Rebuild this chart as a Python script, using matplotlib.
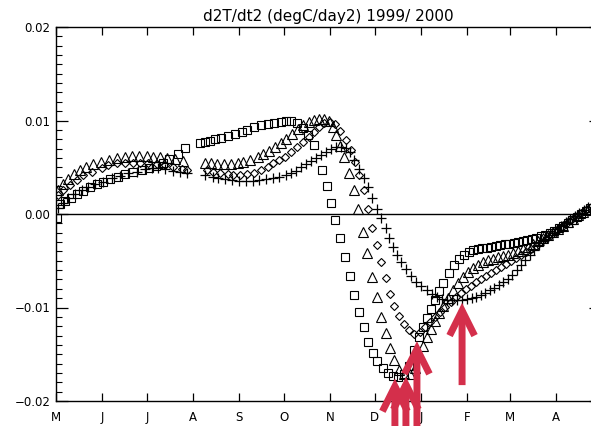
import matplotlib
matplotlib.use("Agg")
import matplotlib.pyplot as plt
from matplotlib.ticker import MultipleLocator

# x = days since 1 May 1999, y = d2T/dt2 (degC/day2)
sq_day = [0.7, 2.7, 6.1, 10.1, 14.1, 18.2, 22.9, 27.6, 31.6, 36.4, 41.8, 46.5, 51.9, 57.9, 62.6, 67.3, 72.1, 76.1, 82.2, 86.9,
          97.0, 100.3, 103.7, 107.1, 111.1, 115.8, 120.5, 124.6, 128.6, 132.7, 137.4, 142.1, 146.1, 150.8, 154.2, 157.6,
          161.6, 165.7, 169.0, 173.1, 178.5, 181.8, 184.5, 187.2, 190.6, 193.9, 197.3, 200.0, 203.4, 206.7, 209.4, 212.8,
          215.5, 219.5, 222.9, 226.3, 229.6, 233.7, 237.0, 240.4, 243.8, 246.5, 249.2, 251.9, 254.5, 257.2, 259.9, 264.0,
          267.3, 270.7, 274.1, 277.4, 280.1, 283.5, 286.2, 289.6, 292.3, 295.6, 298.3, 301.7, 304.4, 307.7, 310.4, 313.8,
          316.5, 319.9, 322.6, 325.9, 328.6, 332.0, 334.7, 338.0, 340.7, 344.1, 346.8, 350.2, 352.9, 356.2, 358.9]
sq_val = [-0.0004, 0.0011, 0.0014, 0.0017, 0.0021, 0.0025, 0.0029, 0.0032, 0.0034, 0.0037, 0.0040, 0.0043, 0.0045,
          0.0047, 0.0049, 0.0051, 0.0055, 0.0059, 0.0064, 0.0071,
          0.0076, 0.0077, 0.0078, 0.0080, 0.0081, 0.0083, 0.0086, 0.0088, 0.0090, 0.0093,
          0.0095, 0.0096, 0.0097, 0.0098, 0.0099, 0.0099, 0.0097, 0.0092, 0.0084, 0.0074,
          0.0047, 0.0030, 0.0012, -0.0006, -0.0026, -0.0046, -0.0066, -0.0087, -0.0105, -0.0121,
          -0.0137, -0.0149, -0.0157, -0.0165, -0.0170, -0.0173, -0.0174, -0.0171, -0.0163, -0.0145,
          -0.0132, -0.0121, -0.0111, -0.0102, -0.0092, -0.0082, -0.0074, -0.0063, -0.0055, -0.0048,
          -0.0044, -0.0041, -0.0039, -0.0037, -0.0036, -0.0036, -0.0035, -0.0034, -0.0033, -0.0032,
          -0.0032, -0.0031, -0.0030, -0.0029, -0.0028, -0.0027, -0.0026, -0.0024, -0.0022, -0.0020,
          -0.0018, -0.0015, -0.0013, -0.0010, -0.0006, -0.0003, 0.0000, 0.0003, 0.0006]

tri_day = [1.3, 4.7, 8.1, 12.1, 16.2, 20.2, 24.9, 30.3, 35.7, 41.1, 46.5, 51.2, 55.9, 61.3, 65.3, 70.0, 74.7, 80.1, 85.5,
           100.3, 104.4, 108.4, 112.5, 117.2, 121.9, 125.9, 130.6, 135.4, 138.7,
           142.8, 146.8, 150.8, 154.2, 158.2, 162.3, 165.7, 169.7, 173.1, 176.4,
           179.8, 183.2, 185.9, 187.9, 190.6, 193.3, 196.6, 200.0, 202.7, 206.1,
           208.8, 212.1, 215.5, 218.2, 221.5, 224.2, 226.9, 230.3, 233.7, 237.7,
           241.1, 243.8, 246.5, 249.2, 251.9, 254.5, 257.2, 259.9, 263.3, 266.7,
           270.0, 273.4, 276.8, 280.1, 283.5, 286.9, 290.2, 293.6, 297.0, 300.3,
           303.7, 307.1, 310.4, 313.8, 317.2, 320.5, 323.9, 327.3, 330.6, 334.0,
           337.4, 340.7, 344.1, 347.5, 350.8, 354.2, 357.6]
tri_val = [0.0026, 0.0032, 0.0037, 0.0043, 0.0047, 0.0050, 0.0053, 0.0056, 0.0058, 0.0060, 0.0061, 0.0062, 0.0062,
           0.0062, 0.0061, 0.0061, 0.0060, 0.0059, 0.0057,
           0.0055, 0.0055, 0.0053, 0.0053, 0.0053, 0.0055, 0.0056, 0.0058, 0.0061, 0.0064,
           0.0067, 0.0072, 0.0076, 0.0080, 0.0086, 0.0091, 0.0095, 0.0098, 0.0101, 0.0102,
           0.0102, 0.0099, 0.0093, 0.0084, 0.0073, 0.0061, 0.0044, 0.0026, 0.0005, -0.0019,
           -0.0042, -0.0067, -0.0089, -0.0110, -0.0127, -0.0143, -0.0156, -0.0167, -0.0171, -0.0171,
           -0.0165, -0.0153, -0.0141, -0.0132, -0.0123, -0.0114, -0.0106, -0.0098, -0.0090, -0.0081,
           -0.0074, -0.0067, -0.0062, -0.0058, -0.0055, -0.0051, -0.0049, -0.0048, -0.0046, -0.0045,
           -0.0044, -0.0042, -0.0040, -0.0037, -0.0035, -0.0032, -0.0029, -0.0026, -0.0022, -0.0019,
           -0.0016, -0.0013, -0.0009, -0.0005, -0.0001, 0.0002, 0.0005]

dia_day = [1.3, 4.7, 9.4, 14.1, 18.2, 24.2, 31.0, 35.0, 41.1, 46.5, 51.9, 56.6, 62.0, 68.0, 73.4, 78.8, 84.8, 88.2,
           101.7, 105.7, 110.4, 115.2, 119.2, 123.9, 128.6, 132.7, 137.4, 142.1,
           145.5, 149.5, 153.5, 157.6, 161.6, 165.7, 169.7, 173.1, 176.4, 179.8,
           183.8, 187.2, 190.6, 194.6, 198.0, 200.7, 203.4, 206.7, 209.4, 212.1,
           215.5, 218.2, 221.5, 224.2, 226.9, 230.3, 233.7, 237.0, 240.4, 244.4,
           247.8, 251.2, 254.5, 257.9, 261.3, 265.3, 268.7, 272.1, 275.4, 278.8,
           282.2, 285.5, 288.9, 292.3, 295.6, 299.0, 302.4, 305.7, 309.1, 312.5,
           315.8, 319.2, 322.6, 325.9, 329.3, 332.7, 336.0, 339.4, 342.8, 346.1,
           349.5, 352.9, 356.2, 359.6]
dia_val = [0.0020, 0.0026, 0.0031, 0.0036, 0.0042, 0.0045, 0.0049, 0.0052, 0.0055, 0.0055, 0.0055, 0.0055, 0.0055,
           0.0053, 0.0052, 0.0050, 0.0048, 0.0047,
           0.0047, 0.0045, 0.0044, 0.0043, 0.0042, 0.0042, 0.0043, 0.0044, 0.0047, 0.0050,
           0.0055, 0.0058, 0.0061, 0.0066, 0.0072, 0.0077, 0.0082, 0.0088, 0.0093, 0.0097,
           0.0098, 0.0096, 0.0089, 0.0079, 0.0068, 0.0056, 0.0042, 0.0026, 0.0005, -0.0015,
           -0.0033, -0.0051, -0.0068, -0.0086, -0.0098, -0.0109, -0.0118, -0.0124, -0.0128, -0.0126,
           -0.0121, -0.0116, -0.0110, -0.0105, -0.0099, -0.0094, -0.0089, -0.0084, -0.0080, -0.0077,
           -0.0073, -0.0070, -0.0066, -0.0063, -0.0060, -0.0057, -0.0053, -0.0050, -0.0047, -0.0044,
           -0.0041, -0.0037, -0.0034, -0.0030, -0.0027, -0.0022, -0.0019, -0.0015, -0.0011, -0.0006,
           -0.0003, 0.0001, 0.0004, 0.0007]

plus_day = [1.3, 4.7, 8.1, 12.8, 17.5, 21.5, 26.3, 31.6, 37.7, 43.1, 48.5, 54.5, 59.9, 64.6, 68.7, 73.4, 78.8, 83.5, 88.2,
            100.3, 105.1, 109.1, 113.8, 118.5, 122.6, 127.3, 132.0, 136.0, 140.7,
            145.5, 149.5, 154.2, 157.6, 160.9, 164.3, 167.7, 171.0, 174.4, 177.8,
            181.1, 184.5, 187.9, 191.2, 194.6, 197.3, 200.0, 203.4, 206.7, 209.4,
            212.1, 215.5, 218.2, 221.5, 223.6, 226.3, 229.0, 231.6, 235.0, 238.4,
            241.8, 245.1, 249.2, 252.5, 255.9, 259.3, 262.6, 266.0, 269.4, 272.7,
            276.1, 279.5, 282.2, 285.5, 288.2, 291.6, 294.3, 297.6, 300.3, 303.7,
            306.4, 309.8, 312.5, 315.2, 318.5, 321.2, 324.6, 327.3, 330.6, 333.3,
            336.7, 339.4, 342.8, 345.5, 348.8, 351.5, 354.9, 357.6]
plus_val = [0.0006, 0.0012, 0.0017, 0.0021, 0.0026, 0.0029, 0.0032, 0.0034, 0.0039, 0.0041, 0.0044, 0.0045, 0.0048,
            0.0049, 0.0049, 0.0048, 0.0046, 0.0045, 0.0044,
            0.0042, 0.0040, 0.0039, 0.0037, 0.0036, 0.0035, 0.0035, 0.0035, 0.0036, 0.0037,
            0.0039, 0.0040, 0.0042, 0.0044, 0.0046, 0.0050, 0.0053, 0.0057, 0.0060, 0.0063,
            0.0066, 0.0070, 0.0072, 0.0072, 0.0071, 0.0066, 0.0058, 0.0048, 0.0039, 0.0029,
            0.0017, 0.0005, -0.0004, -0.0015, -0.0026, -0.0035, -0.0044, -0.0051, -0.0059, -0.0066,
            -0.0073, -0.0077, -0.0081, -0.0086, -0.0089, -0.0091, -0.0092, -0.0092, -0.0092, -0.0092,
            -0.0091, -0.0090, -0.0089, -0.0087, -0.0084, -0.0081, -0.0079, -0.0076, -0.0073, -0.0070,
            -0.0065, -0.0060, -0.0055, -0.0049, -0.0044, -0.0039, -0.0033, -0.0029, -0.0025, -0.0020,
            -0.0016, -0.0013, -0.0009, -0.0005, -0.0002, 0.0001, 0.0004, 0.0007]

month_days = [0, 31, 61, 92, 123, 153, 184, 214, 245, 276, 305, 336]
month_labels = ["M", "J", "J", "A", "S", "O", "N", "D", "J", "F", "M", "A"]
y_ticks = [-0.02, -0.01, 0.0, 0.01, 0.02]
y_labels = ["\u22120.02", "\u22120.01", "0.00", "0.01", "0.02"]
title = "d2T/dt2 (degC/day2) 1999/ 2000"

# annotation arrows (x in days, tip value, tail value)
arrow_x = [227.6, 235.0, 242.4, 272.7]
arrow_tip = [-0.0176, -0.0174, -0.0136, -0.0095]
arrow_tail = [-0.0240, -0.0240, -0.0240, -0.0183]

plt.rcParams["font.family"] = ["DejaVu Sans"]
fig = plt.figure(figsize=(5.91, 4.26), dpi=100)
ax = fig.add_axes([56 / 591, 25 / 426, 545 / 591, 374 / 426])

mk = dict(linestyle="none", markerfacecolor="none", markeredgecolor="black", markeredgewidth=0.8)
ax.plot(sq_day, sq_val, marker="s", markersize=6, **mk)
ax.plot(tri_day, tri_val, marker="^", markersize=6.5, **mk)
ax.plot(dia_day, dia_val, marker="D", markersize=4.2, **mk)
ax.plot(plus_day, plus_val, marker="+", markersize=7, color="black", linestyle="none", markeredgewidth=0.9)

ax.axhline(0, color="black", lw=1.0)

ax.set_xlim(0, 366)
ax.set_ylim(-0.02, 0.02)
ax.set_xticks(month_days)
ax.set_xticklabels(month_labels)
ax.set_yticks(y_ticks)
ax.set_yticklabels(y_labels)
ax.yaxis.set_minor_locator(MultipleLocator(0.001))

ax.tick_params(axis="x", which="major", direction="in", top=True, bottom=True, length=6, width=0.9,
               labelsize=8.5, pad=7)
ax.tick_params(axis="y", which="major", direction="in", left=True, right=True, length=8.6, width=0.9,
               labelsize=8.5, pad=4)
ax.tick_params(axis="y", which="minor", direction="in", left=True, right=True, length=4.3, width=0.8)
ax.tick_params(axis="x", which="minor", bottom=False, top=False)
for s in ax.spines.values():
    s.set_linewidth(1.0)

ax.set_title(title, fontsize=11, pad=4)

red = "#d42f4b"
for x, tip, tail in zip(arrow_x, arrow_tip, arrow_tail):
    ax.annotate("", xy=(x, tip), xytext=(x, tail), annotation_clip=False,
                arrowprops=dict(arrowstyle="->,head_length=18,head_width=9", mutation_scale=1,
                                lw=5, color=red, shrinkA=0, shrinkB=0, capstyle="butt",
                                joinstyle="miter", clip_on=False))

fig.savefig("out.png", dpi=100)
